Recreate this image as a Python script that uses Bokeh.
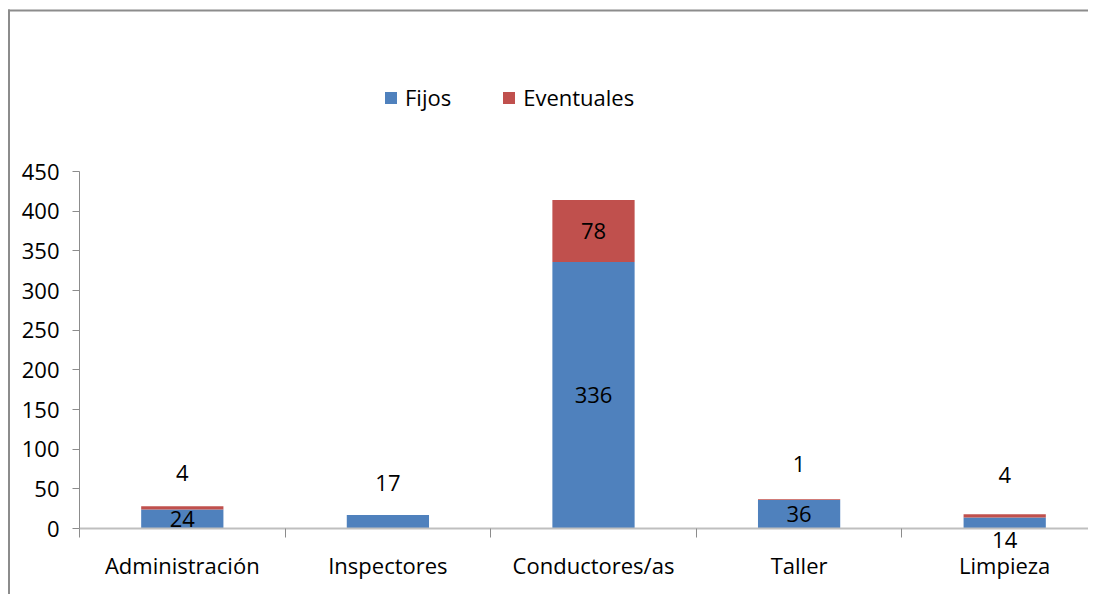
from bokeh.plotting import figure
from bokeh.models import ColumnDataSource, FixedTicker, Range1d, LabelSet, BoxAnnotation
from bokeh.core.properties import value
from bokeh.embed import file_html
from bokeh.resources import INLINE

# ---------------- data ----------------
categories = ["Administración", "Inspectores", "Conductores/as", "Taller", "Limpieza"]
fijos = [24, 17, 336, 36, 14]
eventuales = [4, 0, 78, 1, 4]
series_names = ["Fijos", "Eventuales"]
y_ticks = [0, 50, 100, 150, 200, 250, 300, 350, 400, 450]
# data labels that were dragged away from their segment (category index -> value-axis position)
fijos_label_moved = {1: 57, 4: -14}
eventuales_label_moved = {0: 70, 3: 81, 4: 68}

# ---------------- layout / style ----------------
FONT = "Open Sans"
FS = "22px"
COLORS = ["#4F81BD", "#C0504D"]
BORDER = "#8c8c8c"
W, H = 1088, 594
AXIS_X_PX = 79          # canvas x of the value axis
AXIS_Y_PX = 528         # canvas y of the category axis (value 0)
CAT_PX = 205.6          # pixel width of one category
Y_PX = 357 / 450        # pixels per unit on the value axis
x_start = -AXIS_X_PX / CAT_PX
x_end = (W - AXIS_X_PX) / CAT_PX
y_start = -(H - AXIS_Y_PX) / Y_PX
y_end = AXIS_Y_PX / Y_PX

n = len(categories)
centers = [i + 0.5 for i in range(n)]

src = ColumnDataSource(dict(x=centers, Fijos=fijos, Eventuales=eventuales))

p = figure(width=W, height=H, x_range=Range1d(x_start, x_end), y_range=Range1d(y_start, y_end),
           output_backend="svg", toolbar_location=None,
           min_border_left=0, min_border_right=0, min_border_top=0,
           min_border_bottom=0, outline_line_color=None)
p.grid.visible = False

# outer chart-area border (only its left and top sides fall inside the window)
for l, r, t, b in [(7.5, 9.5, 9, H), (7.5, W, 9, 11)]:
    p.add_layout(BoxAnnotation(left=l, right=r, top=t, bottom=b,
                               left_units="canvas", right_units="canvas",
                               top_units="canvas", bottom_units="canvas",
                               fill_color=BORDER, fill_alpha=1, line_color=None,
                               level="underlay"))

p.vbar_stack(series_names, x="x", width=0.4, source=src, color=COLORS,
             line_color=None, legend_label=series_names)

# ---------------- data labels ----------------
lx, ly, lt = [], [], []
for i in range(n):
    if fijos[i]:
        lx.append(centers[i])
        ly.append(fijos_label_moved.get(i, fijos[i] / 2))
        lt.append(str(fijos[i]))
    if eventuales[i]:
        lx.append(centers[i])
        ly.append(eventuales_label_moved.get(i, fijos[i] + eventuales[i] / 2))
        lt.append(str(eventuales[i]))
lsrc = ColumnDataSource(dict(x=lx, y=ly, text=lt))
p.add_layout(LabelSet(x="x", y="y", text="text", source=lsrc,
                      text_align="center", text_baseline="middle",
                      text_font=value(FONT), text_font_size=FS, text_color="black"))

# ---------------- axes ----------------
xa = p.xaxis[0]
xa.fixed_location = 0
xa.bounds = (0, x_end)
xa.ticker = FixedTicker(ticks=centers, minor_ticks=list(range(n + 1)))
xa.major_label_overrides = {c: cat for c, cat in zip(centers, categories)}
xa.major_tick_line_color = None
xa.major_tick_out = 0
xa.major_tick_in = 0
xa.minor_tick_out = 9
xa.minor_tick_in = 0
xa.minor_tick_line_color = "#8c8c8c"
xa.axis_line_color = "#bfbfbf"
xa.axis_line_width = 2
xa.major_label_standoff = 12
xa.major_label_text_font = FONT
xa.major_label_text_font_size = FS
xa.major_label_text_color = "black"

ya = p.yaxis[0]
ya.fixed_location = 0
ya.ticker = FixedTicker(ticks=y_ticks)
ya.bounds = (0, 450)
ya.major_tick_out = 7
ya.major_tick_in = 0
ya.minor_tick_line_color = None
ya.major_tick_line_color = "#8c8c8c"
ya.axis_line_color = "#8c8c8c"
ya.major_label_standoff = 13
ya.major_label_text_font = FONT
ya.major_label_text_font_size = FS
ya.major_label_text_color = "black"

# ---------------- legend ----------------
lg = p.legend[0]
lg.orientation = "horizontal"
lg.location = (383, 482)
lg.glyph_width = 15
lg.glyph_height = 15
lg.label_standoff = 7
lg.spacing = 50
lg.padding = 0
lg.margin = 0
lg.border_line_color = None
lg.background_fill_alpha = 0
lg.label_text_font = FONT
lg.label_text_font_size = FS
lg.label_text_color = "black"

open("out.html", "w").write(file_html(p, INLINE))
